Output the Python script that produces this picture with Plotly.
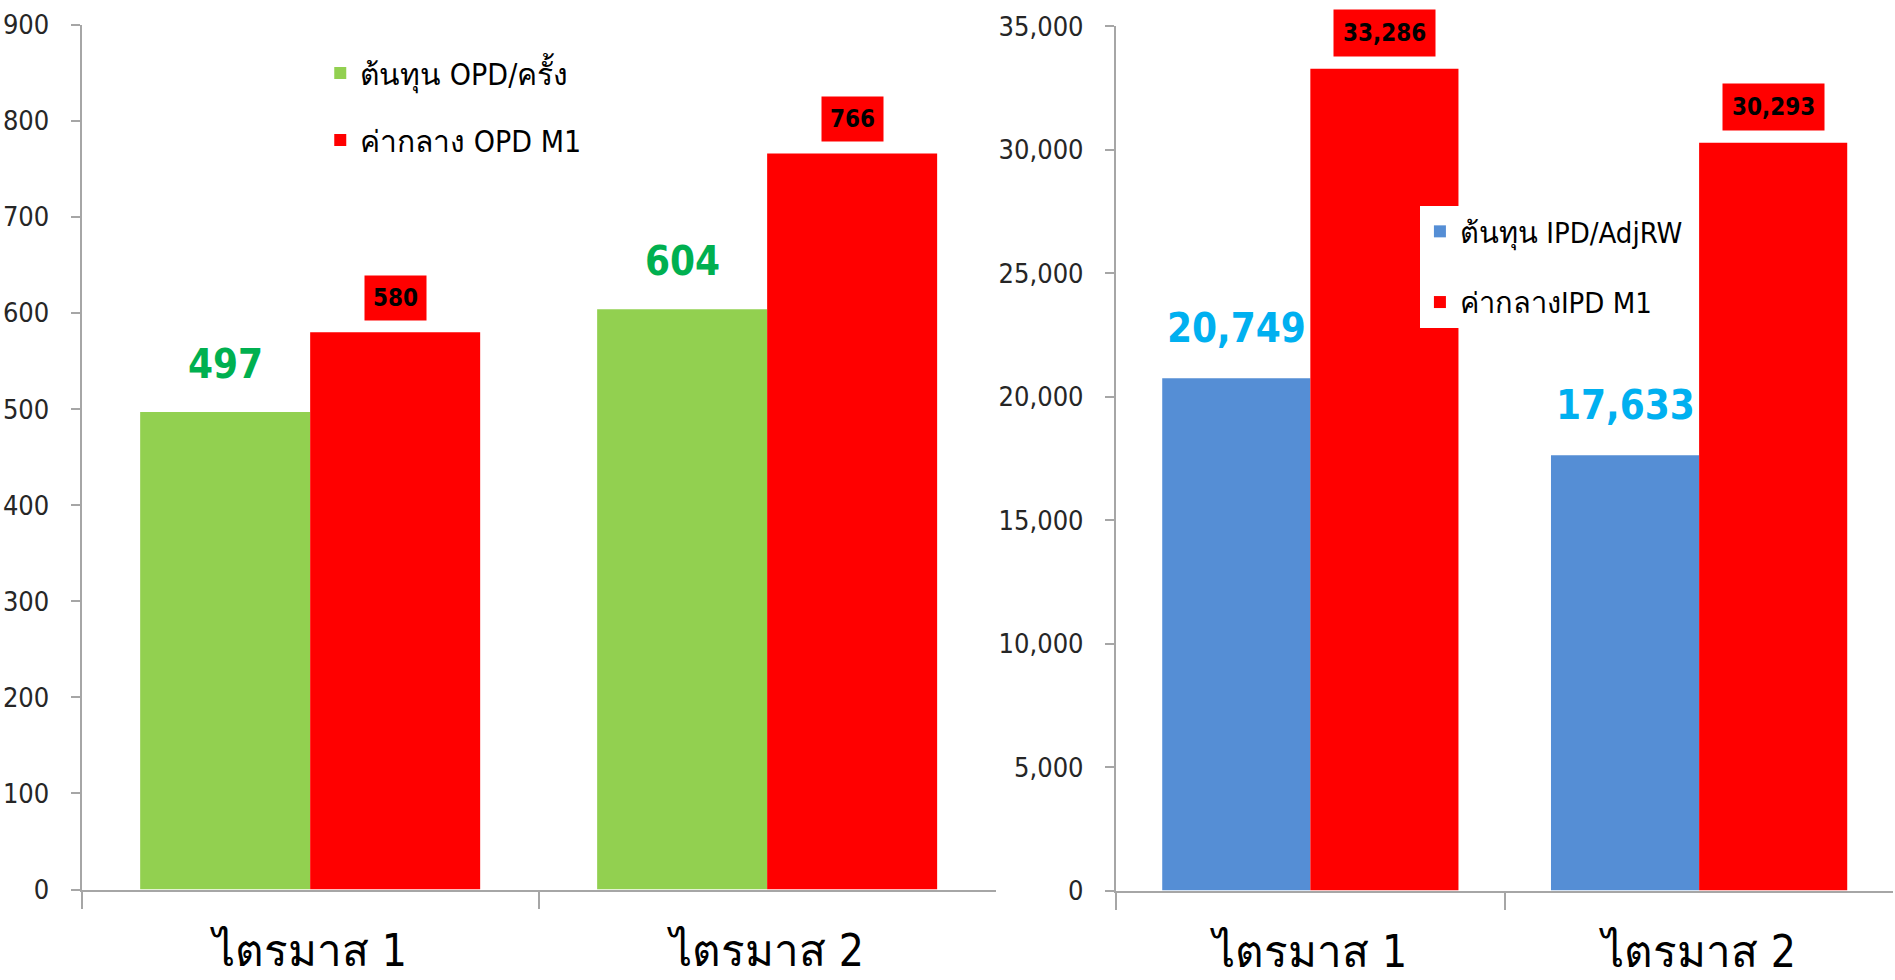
import plotly.graph_objects as go

quarters = ["ไตรมาส 1", "ไตรมาส 2"]

opd_names = ["ต้นทุน OPD/ครั้ง", "ค่ากลาง OPD M1"]
opd_cost = [497, 604]
opd_m1 = [580, 766]

ipd_names = ["ต้นทุน IPD/AdjRW", "ค่ากลางIPD M1"]
ipd_cost = [20749, 17633]
ipd_m1 = [33286, 30293]

GREEN = "#92D050"
RED = "#FF0000"
BLUE = "#558ED5"
AXIS = "#A6A6A6"
FONT = "Liberation Sans Narrow, Arial Narrow, DejaVu Sans Condensed, Noto Sans, sans-serif"

W_L = 0.372  # bar width (category units), left chart
W_R = 0.381  # right chart

fig = go.Figure()

# left chart: OPD
fig.add_trace(go.Bar(x=quarters, y=opd_cost, name=opd_names[0], marker_color=GREEN,
                     width=W_L, offset=-W_L, xaxis="x", yaxis="y",
                     legend="legend", legendgroup="a"))
fig.add_trace(go.Bar(x=quarters, y=opd_m1, name=opd_names[1], marker_color=RED,
                     width=W_L, offset=0, xaxis="x", yaxis="y",
                     legend="legend", legendgroup="b"))

# right chart: IPD
fig.add_trace(go.Bar(x=quarters, y=ipd_cost, name=ipd_names[0], marker_color=BLUE,
                     width=W_R, offset=-W_R, xaxis="x2", yaxis="y2",
                     legend="legend2", legendgroup="c"))
fig.add_trace(go.Bar(x=quarters, y=ipd_m1, name=ipd_names[1], marker_color=RED,
                     width=W_R, offset=0, xaxis="x2", yaxis="y2",
                     legend="legend2", legendgroup="d"))

for tr in fig.data:
    tr.marker.line.width = 0

annotations = []
for i in range(len(quarters)):
    annotations.append(dict(x=i - W_L / 2, y=opd_cost[i], xref="x", yref="y",
                            text=f"<b>{opd_cost[i]:,}</b>", showarrow=False,
                            yanchor="middle", yshift=48,
                            font=dict(size=40, color="#00B050", family=FONT)))
    annotations.append(dict(x=i + W_L / 2, y=opd_m1[i], xref="x", yref="y",
                            text=f"<b>{opd_m1[i]:,}</b>", showarrow=False,
                            yanchor="middle", yshift=34, bgcolor=RED, borderpad=8,
                            font=dict(size=24, color="black", family=FONT)))
    annotations.append(dict(x=i - W_R / 2, y=ipd_cost[i], xref="x2", yref="y2",
                            text=f"<b>{ipd_cost[i]:,}</b>", showarrow=False,
                            yanchor="middle", yshift=50,
                            font=dict(size=40, color="#00B0F0", family=FONT)))
    annotations.append(dict(x=i + W_R / 2, y=ipd_m1[i], xref="x2", yref="y2",
                            text=f"<b>{ipd_m1[i]:,}</b>", showarrow=False,
                            yanchor="middle", yshift=36, bgcolor=RED, borderpad=9,
                            font=dict(size=24, color="black", family=FONT)))

xaxis_style = dict(type="category", showline=True, linecolor=AXIS, linewidth=2,
                   ticks="outside", tickson="boundaries", ticklen=17, tickcolor=AXIS,
                   tickwidth=2, showgrid=False, zeroline=False, automargin=False,
                   ticklabelstandoff=22,
                   tickfont=dict(size=44, color="black", family=FONT), fixedrange=True)
yaxis_style = dict(showline=True, linecolor=AXIS, linewidth=2, ticks="outside",
                   ticklen=9, tickcolor=AXIS, tickwidth=2, showgrid=False,
                   zeroline=False, automargin=False, ticklabelstandoff=16,
                   tickfont=dict(size=27, color="#262626", family=FONT))

fig.update_layout(
    width=1895,
    height=980,
    margin=dict(l=0, r=0, t=0, b=0),
    paper_bgcolor="white",
    plot_bgcolor="white",
    font=dict(family=FONT, color="black"),
    barmode="group",
    xaxis=dict(xaxis_style, domain=[0.0431, 0.5254], anchor="y"),
    yaxis=dict(yaxis_style, domain=[0.0923, 0.9748], anchor="x",
               range=[0, 900], dtick=100),
    xaxis2=dict(xaxis_style, domain=[0.5889, 0.9992], anchor="y2"),
    yaxis2=dict(yaxis_style, domain=[0.0913, 0.9730], anchor="x2",
                range=[0, 35000], dtick=5000, tickformat=","),
    legend=dict(x=0.169, y=0.952, xanchor="left", yanchor="top",
                bgcolor="rgba(0,0,0,0)", tracegroupgap=25, traceorder="grouped",
                font=dict(size=30, color="black", family=FONT)),
    legend2=dict(x=0.7493, y=0.7898, xanchor="left", yanchor="top",
                 bgcolor="white", tracegroupgap=30, traceorder="grouped",
                 font=dict(size=29, color="black", family=FONT)),
    annotations=annotations,
    showlegend=True,
)

fig.write_html("out.html", config={"displayModeBar": False},
               post_script="document.body.style.margin='0';document.body.style.overflow='hidden';")
